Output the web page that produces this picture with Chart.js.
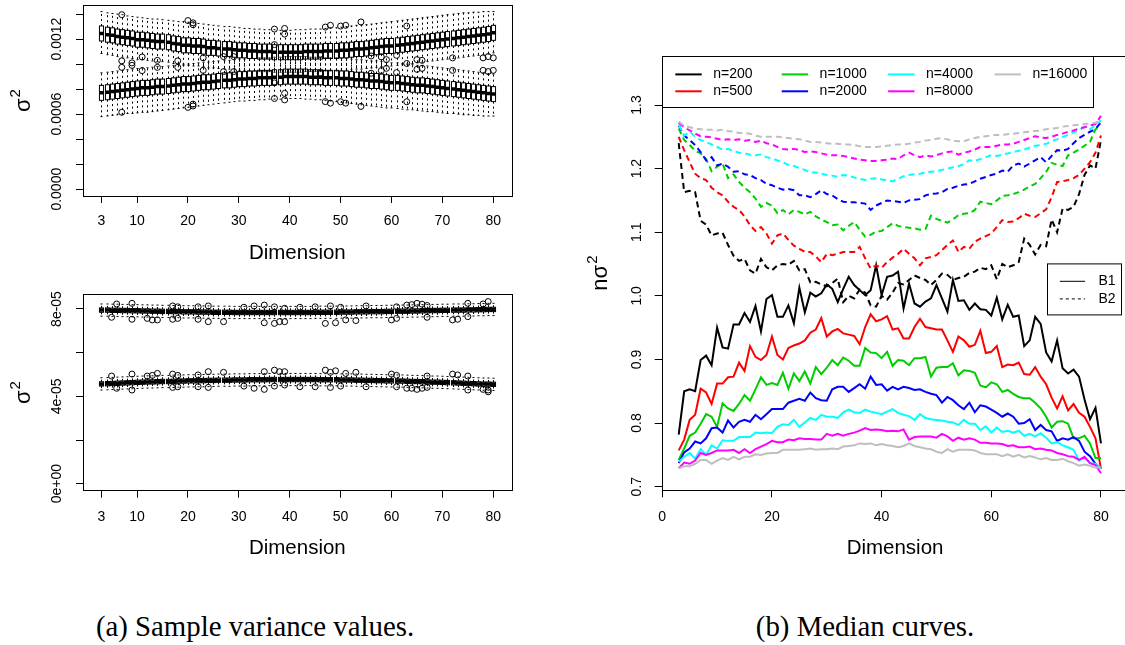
<!DOCTYPE html>
<html>
<head>
<meta charset="utf-8">
<script src="https://cdn.jsdelivr.net/npm/chart.js@4.4.0/dist/chart.umd.min.js"></script>
<style>
  html, body { margin: 0; padding: 0; background: #fff; }
  body { width: 1125px; height: 645px; overflow: hidden; position: relative; }
  canvas { position: absolute; }
  .cap { position: absolute; transform: translate(-50%, -50%); white-space: nowrap;
         font-family: "Liberation Serif", "Times New Roman", serif; font-size: 28.8px; color: #000; }
</style>
</head>
<body>
<canvas id="top" width="530" height="272" style="left:0;top:0"></canvas>
<canvas id="bot" width="530" height="290" style="left:0;top:280px"></canvas>
<canvas id="med" width="565" height="540" style="left:570px;top:40px"></canvas>
<div class="cap" style="left:255px;top:626px">(a) Sample variance values.</div>
<div class="cap" style="left:865px;top:626px">(b) Median curves.</div>
<script>
const FONT = '"Liberation Sans", Arial, Helvetica, sans-serif';

// x categories shared by every panel
const dims = [3,4,5,6,7,8,9,10,11,12,13,14,15,16,17,18,19,20,21,22,23,24,25,26,27,28,29,30,31,32,33,34,35,36,37,38,39,40,
  41,42,43,44,45,46,47,48,49,50,51,52,53,54,55,56,57,58,59,60,61,62,63,64,65,66,67,68,69,70,71,72,73,74,75,76,77,78,79,80];

// ---- panel (a) top: boxplot stats, units of 1e-4 ----
const topUpMed = [12.45,12.35,12.30,12.20,12.15,12.10,12.05,11.95,11.95,11.90,
  11.85,11.80,11.80,11.75,11.65,11.60,11.50,11.50,11.45,11.45,
  11.40,11.30,11.30,11.25,11.20,11.20,11.15,11.10,11.10,11.05,
  11.05,11.00,11.00,11.00,10.95,10.95,10.95,10.95,10.95,10.95,
  11.00,11.00,11.00,11.00,11.05,11.05,11.05,11.10,11.10,11.15,
  11.20,11.20,11.25,11.30,11.35,11.40,11.45,11.45,11.50,11.55,
  11.60,11.65,11.70,11.75,11.80,11.85,11.90,11.95,12.00,12.05,
  12.10,12.15,12.20,12.25,12.30,12.35,12.40,12.50];
const topUpQ3 = [13.05,12.95,12.90,12.80,12.75,12.70,12.65,12.55,12.55,12.50,
  12.45,12.40,12.40,12.35,12.25,12.20,12.10,12.10,12.05,12.05,
  12.00,11.90,11.90,11.85,11.80,11.80,11.75,11.70,11.70,11.65,
  11.65,11.60,11.60,11.60,11.55,11.55,11.55,11.55,11.55,11.55,
  11.60,11.60,11.60,11.60,11.65,11.65,11.65,11.70,11.70,11.75,
  11.80,11.80,11.85,11.90,11.95,12.00,12.05,12.05,12.10,12.15,
  12.20,12.25,12.30,12.35,12.40,12.45,12.50,12.55,12.60,12.65,
  12.70,12.75,12.80,12.85,12.90,12.95,13.00,13.10];
const topUpQ1 = [11.85,11.75,11.70,11.60,11.55,11.50,11.45,11.35,11.35,11.30,
  11.25,11.20,11.20,11.15,11.05,11.00,10.90,10.90,10.85,10.85,
  10.80,10.70,10.70,10.65,10.60,10.60,10.55,10.50,10.50,10.45,
  10.45,10.40,10.40,10.40,10.35,10.35,10.35,10.35,10.35,10.35,
  10.40,10.40,10.40,10.40,10.45,10.45,10.45,10.50,10.50,10.55,
  10.60,10.60,10.65,10.70,10.75,10.80,10.85,10.85,10.90,10.95,
  11.00,11.05,11.10,11.15,11.20,11.25,11.30,11.35,11.40,11.45,
  11.50,11.55,11.60,11.65,11.70,11.75,11.80,11.90];
const topUpHi = [14.20,14.10,14.05,14.00,13.95,13.85,13.80,13.75,13.70,13.65,
  13.60,13.60,13.55,13.50,13.45,13.40,13.40,13.35,13.30,13.25,
  13.20,13.15,13.10,13.05,13.00,13.00,12.95,12.90,12.85,12.85,
  12.80,12.80,12.75,12.75,12.75,12.70,12.70,12.70,12.75,12.75,
  12.75,12.80,12.80,12.80,12.85,12.90,12.90,12.95,13.00,13.05,
  13.10,13.10,13.15,13.20,13.25,13.30,13.35,13.40,13.45,13.50,
  13.55,13.60,13.65,13.70,13.75,13.80,13.85,13.90,13.95,14.00,
  14.05,14.10,14.10,14.15,14.15,14.20,14.20,14.20];
const topUpLo = [10.85,10.75,10.70,10.60,10.55,10.50,10.45,10.35,10.35,10.30,
  10.25,10.20,10.20,10.15,10.05,10.00,9.90,9.90,9.85,9.85,
  9.80,9.70,9.70,9.65,9.60,9.60,9.55,9.50,9.50,9.45,
  9.45,9.40,9.40,9.40,9.35,9.35,9.35,9.35,9.35,9.35,
  9.40,9.40,9.40,9.40,9.45,9.45,9.45,9.50,9.50,9.55,
  9.60,9.60,9.65,9.70,9.75,9.80,9.85,9.85,9.90,9.95,
  10.00,10.05,10.10,10.15,10.20,10.25,10.30,10.35,10.40,10.45,
  10.50,10.55,10.60,10.65,10.70,10.75,10.80,10.90];

const topLoMed = [7.70,7.75,7.80,7.85,7.90,7.95,8.00,8.05,8.10,8.10,
  8.15,8.20,8.20,8.25,8.30,8.35,8.40,8.40,8.45,8.50,
  8.55,8.55,8.60,8.65,8.70,8.70,8.75,8.80,8.80,8.85,
  8.85,8.90,8.90,8.90,8.95,8.95,9.00,9.00,9.00,9.00,
  9.00,8.95,8.95,8.95,8.90,8.90,8.90,8.85,8.85,8.80,
  8.75,8.75,8.70,8.65,8.65,8.60,8.55,8.50,8.50,8.45,
  8.40,8.35,8.30,8.30,8.25,8.20,8.15,8.10,8.05,8.00,
  7.95,7.90,7.85,7.80,7.75,7.70,7.65,7.60];
const topLoQ3 = [8.30,8.35,8.40,8.45,8.50,8.55,8.60,8.65,8.70,8.70,
  8.75,8.80,8.80,8.85,8.90,8.95,9.00,9.00,9.05,9.10,
  9.15,9.15,9.20,9.25,9.30,9.30,9.35,9.40,9.40,9.45,
  9.45,9.50,9.50,9.50,9.55,9.55,9.60,9.60,9.60,9.60,
  9.60,9.55,9.55,9.55,9.50,9.50,9.50,9.45,9.45,9.40,
  9.35,9.35,9.30,9.25,9.25,9.20,9.15,9.10,9.10,9.05,
  9.00,8.95,8.90,8.90,8.85,8.80,8.75,8.70,8.65,8.60,
  8.55,8.50,8.45,8.40,8.35,8.30,8.25,8.20];
const topLoQ1 = [7.10,7.15,7.20,7.25,7.30,7.35,7.40,7.45,7.50,7.50,
  7.55,7.60,7.60,7.65,7.70,7.75,7.80,7.80,7.85,7.90,
  7.95,7.95,8.00,8.05,8.10,8.10,8.15,8.20,8.20,8.25,
  8.25,8.30,8.30,8.30,8.35,8.35,8.40,8.40,8.40,8.40,
  8.40,8.35,8.35,8.35,8.30,8.30,8.30,8.25,8.25,8.20,
  8.15,8.15,8.10,8.05,8.05,8.00,7.95,7.90,7.90,7.85,
  7.80,7.75,7.70,7.70,7.65,7.60,7.55,7.50,7.45,7.40,
  7.35,7.30,7.25,7.20,7.15,7.10,7.05,7.00];
const topLoHi = [9.30,9.35,9.40,9.45,9.50,9.55,9.60,9.65,9.70,9.70,
  9.75,9.80,9.80,9.85,9.90,9.95,10.00,10.00,10.05,10.10,
  10.15,10.15,10.20,10.25,10.30,10.30,10.35,10.40,10.40,10.45,
  10.45,10.50,10.50,10.50,10.55,10.55,10.60,10.60,10.60,10.60,
  10.60,10.55,10.55,10.55,10.50,10.50,10.50,10.45,10.45,10.40,
  10.35,10.35,10.30,10.25,10.25,10.20,10.15,10.10,10.10,10.05,
  10.00,9.95,9.90,9.90,9.85,9.80,9.75,9.70,9.65,9.60,
  9.55,9.50,9.45,9.40,9.35,9.30,9.25,9.20];
const topLoLo = [5.80,5.85,5.90,5.95,6.00,6.05,6.05,6.10,6.15,6.15,
  6.20,6.25,6.30,6.35,6.40,6.45,6.50,6.55,6.60,6.65,
  6.70,6.75,6.80,6.85,6.90,6.95,7.00,7.05,7.05,7.10,
  7.10,7.15,7.15,7.20,7.20,7.20,7.25,7.25,7.25,7.25,
  7.20,7.20,7.15,7.15,7.10,7.05,7.00,6.95,6.90,6.85,
  6.80,6.75,6.70,6.65,6.60,6.55,6.50,6.50,6.45,6.40,
  6.35,6.35,6.30,6.25,6.20,6.20,6.15,6.10,6.05,6.05,
  6.00,5.95,5.95,5.90,5.90,5.85,5.85,5.85];

// outliers [dimension, value in 1e-4]
const topOutliers = [[7,13.95],[7,10.26],[7,9.74],[7,6.15],[9,10.1],[9,9.9],[11,10.57],[11,9.48],[14,10.3],[14,9.74],
  [18,10.26],[18,9.74],[20,13.48],[20,6.54],[21,13.3],[21,13.15],[21,6.8],[21,6.65],[23,10.5],[23,9.5],[27,10.6],[27,9.4],
  [29,10.6],[29,9.4],[37,12.8],[37,11.56],[37,8.5],[37,7.25],[39,12.85],[39,12.4],[39,7.66],[39,7.14],[46,10.78],[46,9.27],
  [47,12.96],[47,7.0],[48,13.1],[48,6.88],[50,13.04],[50,6.99],[51,13.1],[51,6.88],[54,13.37],[54,6.62],[56,10.65],[56,9.27],
  [58,10.57],[58,9.48],[59,10.36],[59,9.66],[61,10.7],[61,9.32],[63,13.04],[63,6.99],[63,10.05],[65,10.36],[65,9.58],
  [66,10.3],[66,9.66],[72,10.5],[72,9.5],[78,10.5],[78,9.5],[79,10.6],[79,9.4],[80,10.5],[80,9.5]];

// ---- panel (a) bottom: boxplot stats, units of 1e-5 ----
const botUpMed = [7.95,7.95,7.94,7.94,7.93,7.93,7.92,7.92,7.91,7.91,
  7.90,7.90,7.89,7.89,7.88,7.88,7.87,7.87,7.87,7.86,
  7.86,7.86,7.85,7.85,7.85,7.85,7.84,7.84,7.84,7.84,
  7.84,7.84,7.84,7.84,7.84,7.84,7.84,7.84,7.84,7.84,
  7.84,7.84,7.85,7.85,7.85,7.85,7.85,7.86,7.86,7.86,
  7.87,7.87,7.87,7.88,7.88,7.88,7.89,7.89,7.90,7.90,
  7.90,7.91,7.91,7.92,7.92,7.93,7.93,7.94,7.94,7.95,
  7.95,7.95,7.96,7.96,7.97,7.97,7.98,7.98];
const botUpQ3 = [8.05,8.05,8.04,8.04,8.03,8.03,8.02,8.02,8.01,8.01,
  8.00,8.00,7.99,7.99,7.98,7.98,7.97,7.97,7.97,7.96,
  7.96,7.96,7.95,7.95,7.95,7.95,7.94,7.94,7.94,7.94,
  7.94,7.94,7.94,7.94,7.94,7.94,7.94,7.94,7.94,7.94,
  7.94,7.94,7.95,7.95,7.95,7.95,7.95,7.96,7.96,7.96,
  7.97,7.97,7.97,7.98,7.98,7.98,7.99,7.99,8.00,8.00,
  8.00,8.01,8.01,8.02,8.02,8.03,8.03,8.04,8.04,8.05,
  8.05,8.05,8.06,8.06,8.07,8.07,8.08,8.08];
const botUpQ1 = [7.85,7.85,7.84,7.84,7.83,7.83,7.82,7.82,7.81,7.81,
  7.80,7.80,7.79,7.79,7.78,7.78,7.77,7.77,7.77,7.76,
  7.76,7.76,7.75,7.75,7.75,7.75,7.74,7.74,7.74,7.74,
  7.74,7.74,7.74,7.74,7.74,7.74,7.74,7.74,7.74,7.74,
  7.74,7.74,7.75,7.75,7.75,7.75,7.75,7.76,7.76,7.76,
  7.77,7.77,7.77,7.78,7.78,7.78,7.79,7.79,7.80,7.80,
  7.80,7.81,7.81,7.82,7.82,7.83,7.83,7.84,7.84,7.85,
  7.85,7.85,7.86,7.86,7.87,7.87,7.88,7.88];
const botUpHi = [8.23,8.23,8.22,8.22,8.21,8.21,8.20,8.20,8.19,8.19,
  8.18,8.18,8.17,8.17,8.16,8.16,8.15,8.15,8.15,8.14,
  8.14,8.14,8.13,8.13,8.13,8.13,8.12,8.12,8.12,8.12,
  8.12,8.12,8.12,8.12,8.12,8.12,8.12,8.12,8.12,8.12,
  8.12,8.12,8.13,8.13,8.13,8.13,8.13,8.14,8.14,8.14,
  8.15,8.15,8.15,8.16,8.16,8.16,8.17,8.17,8.18,8.18,
  8.18,8.19,8.19,8.20,8.20,8.21,8.21,8.22,8.22,8.23,
  8.23,8.23,8.24,8.24,8.25,8.25,8.26,8.26];
const botUpLo = [7.67,7.67,7.66,7.66,7.65,7.65,7.64,7.64,7.63,7.63,
  7.62,7.62,7.61,7.61,7.60,7.60,7.59,7.59,7.59,7.58,
  7.58,7.58,7.57,7.57,7.57,7.57,7.56,7.56,7.56,7.56,
  7.56,7.56,7.56,7.56,7.56,7.56,7.56,7.56,7.56,7.56,
  7.56,7.56,7.57,7.57,7.57,7.57,7.57,7.58,7.58,7.58,
  7.59,7.59,7.59,7.60,7.60,7.60,7.61,7.61,7.62,7.62,
  7.62,7.63,7.63,7.64,7.64,7.65,7.65,7.66,7.66,7.67,
  7.67,7.67,7.68,7.68,7.69,7.69,7.70,7.70];

const botLoMed = [4.57,4.58,4.59,4.60,4.61,4.62,4.63,4.64,4.65,4.66,
  4.66,4.67,4.68,4.68,4.69,4.70,4.70,4.71,4.71,4.72,
  4.72,4.73,4.73,4.74,4.74,4.74,4.75,4.75,4.75,4.76,
  4.76,4.76,4.76,4.77,4.77,4.77,4.77,4.77,4.77,4.77,
  4.77,4.77,4.77,4.76,4.76,4.76,4.76,4.75,4.75,4.75,
  4.74,4.74,4.73,4.73,4.72,4.72,4.71,4.71,4.70,4.70,
  4.69,4.68,4.68,4.67,4.66,4.65,4.65,4.64,4.63,4.62,
  4.61,4.60,4.59,4.58,4.57,4.56,4.56,4.55];
const botLoQ3 = [4.67,4.68,4.69,4.70,4.71,4.72,4.73,4.74,4.75,4.76,
  4.76,4.77,4.78,4.78,4.79,4.80,4.80,4.81,4.81,4.82,
  4.82,4.83,4.83,4.84,4.84,4.84,4.85,4.85,4.85,4.86,
  4.86,4.86,4.86,4.87,4.87,4.87,4.87,4.87,4.87,4.87,
  4.87,4.87,4.87,4.86,4.86,4.86,4.86,4.85,4.85,4.85,
  4.84,4.84,4.83,4.83,4.82,4.82,4.81,4.81,4.80,4.80,
  4.79,4.78,4.78,4.77,4.76,4.75,4.75,4.74,4.73,4.72,
  4.71,4.70,4.69,4.68,4.67,4.66,4.66,4.65];
const botLoQ1 = [4.47,4.48,4.49,4.50,4.51,4.52,4.53,4.54,4.55,4.56,
  4.56,4.57,4.58,4.58,4.59,4.60,4.60,4.61,4.61,4.62,
  4.62,4.63,4.63,4.64,4.64,4.64,4.65,4.65,4.65,4.66,
  4.66,4.66,4.66,4.67,4.67,4.67,4.67,4.67,4.67,4.67,
  4.67,4.67,4.67,4.66,4.66,4.66,4.66,4.65,4.65,4.65,
  4.64,4.64,4.63,4.63,4.62,4.62,4.61,4.61,4.60,4.60,
  4.59,4.58,4.58,4.57,4.56,4.55,4.55,4.54,4.53,4.52,
  4.51,4.50,4.49,4.48,4.47,4.46,4.46,4.45];
const botLoHi = [4.85,4.86,4.87,4.88,4.89,4.90,4.91,4.92,4.93,4.94,
  4.94,4.95,4.96,4.96,4.97,4.98,4.98,4.99,4.99,5.00,
  5.00,5.01,5.01,5.02,5.02,5.02,5.03,5.03,5.03,5.04,
  5.04,5.04,5.04,5.05,5.05,5.05,5.05,5.05,5.05,5.05,
  5.05,5.05,5.05,5.04,5.04,5.04,5.04,5.03,5.03,5.03,
  5.02,5.02,5.01,5.01,5.00,5.00,4.99,4.99,4.98,4.98,
  4.97,4.96,4.96,4.95,4.94,4.93,4.93,4.92,4.91,4.90,
  4.89,4.88,4.87,4.86,4.85,4.84,4.84,4.83];
const botLoLo = [4.29,4.30,4.31,4.32,4.33,4.34,4.35,4.36,4.37,4.38,
  4.38,4.39,4.40,4.40,4.41,4.42,4.42,4.43,4.43,4.44,
  4.44,4.45,4.45,4.46,4.46,4.46,4.47,4.47,4.47,4.48,
  4.48,4.48,4.48,4.49,4.49,4.49,4.49,4.49,4.49,4.49,
  4.49,4.49,4.49,4.48,4.48,4.48,4.48,4.47,4.47,4.47,
  4.46,4.46,4.45,4.45,4.44,4.44,4.43,4.43,4.42,4.42,
  4.41,4.40,4.40,4.39,4.38,4.37,4.37,4.36,4.35,4.34,
  4.33,4.32,4.31,4.30,4.29,4.28,4.28,4.27];

// outliers [dimension, value in 1e-5]
const botOutliers = [[5,7.62],[6,8.23],[9,8.26],[9,7.53],[12,7.57],[13,7.5],[14,7.5],[17,8.14],[17,7.53],[18,8.1],[18,7.57],
  [22,8.1],[22,7.53],[24,8.14],[24,7.42],[27,7.42],[31,8.08],[33,8.14],[35,8.18],[35,7.37],[37,8.1],[37,7.34],[38,7.42],
  [39,8.03],[39,7.42],[42,8.08],[45,8.1],[47,7.34],[48,8.14],[49,7.37],[50,8.08],[51,7.5],[53,7.47],[55,8.14],[60,7.5],
  [61,8.1],[61,7.57],[63,8.18],[64,8.2],[65,8.26],[66,8.22],[67,8.16],[67,7.62],[72,7.5],[73,7.53],[75,8.26],[75,7.65],
  [78,8.23],[79,8.34],
  [5,4.93],[6,4.37],[9,5.02],[9,4.29],[12,4.93],[13,4.96],[14,5.05],[17,5.02],[17,4.41],[18,4.96],[18,4.44],[22,4.98],
  [22,4.44],[24,5.13],[24,4.41],[27,5.1],[31,4.47],[33,4.37],[35,5.13],[35,4.32],[37,5.2],[37,4.47],[38,5.13],[39,5.13],
  [39,4.52],[42,4.44],[45,4.44],[47,5.2],[48,5.1],[48,4.41],[49,5.17],[50,4.47],[51,5.05],[53,5.1],[55,4.44],[60,5.02],
  [61,4.96],[61,4.44],[63,4.37],[64,4.37],[65,4.32],[66,4.37],[67,4.93],[67,4.41],[72,5.02],[73,4.98],[75,4.93],[75,4.29],
  [78,4.32],[79,4.21],[79,4.29]];

// ---- panel (b): median curves n*sigma^2 ----
const seriesNames = ['n=200', 'n=500', 'n=1000', 'n=2000', 'n=4000', 'n=8000', 'n=16000'];
const seriesColors = ['#000000', '#FF0000', '#00CD00', '#0000FF', '#00FFFF', '#FF00FF', '#BEBEBE'];

const n200B1 = [0.782,0.850,0.853,0.850,0.899,0.906,0.891,0.950,0.919,0.917,
  0.955,0.955,0.973,0.959,0.984,0.944,0.995,1.001,0.967,0.967,
  0.985,0.957,1.013,0.974,1.005,0.999,1.004,1.018,1.011,0.990,
  1.011,1.030,1.017,1.009,1.001,1.009,1.048,1.001,1.030,1.032,
  1.038,0.980,1.019,0.988,0.983,0.991,0.996,1.017,0.996,0.975,
  1.025,0.992,0.993,0.978,0.988,0.979,0.978,0.969,0.997,0.963,
  0.986,0.967,0.969,0.921,0.930,0.967,0.956,0.911,0.897,0.930,
  0.886,0.878,0.884,0.873,0.837,0.806,0.824,0.768];
const n500B1 = [0.757,0.774,0.805,0.813,0.854,0.848,0.830,0.862,0.862,0.872,
  0.873,0.895,0.882,0.921,0.904,0.899,0.907,0.936,0.907,0.900,
  0.918,0.922,0.925,0.930,0.942,0.947,0.965,0.936,0.944,0.948,
  0.941,0.939,0.937,0.924,0.951,0.971,0.960,0.963,0.968,0.947,
  0.949,0.933,0.933,0.951,0.964,0.951,0.949,0.947,0.947,0.930,
  0.912,0.936,0.930,0.920,0.923,0.945,0.910,0.912,0.921,0.888,
  0.892,0.891,0.895,0.877,0.876,0.888,0.873,0.861,0.840,0.823,
  0.842,0.820,0.830,0.816,0.810,0.794,0.776,0.728];
const n1000B1 = [0.742,0.760,0.780,0.785,0.799,0.814,0.810,0.794,0.831,0.823,
  0.819,0.830,0.844,0.835,0.853,0.872,0.860,0.863,0.860,0.879,
  0.854,0.878,0.866,0.881,0.862,0.888,0.877,0.887,0.899,0.891,
  0.903,0.898,0.890,0.890,0.918,0.911,0.910,0.902,0.912,0.890,
  0.899,0.898,0.891,0.902,0.902,0.904,0.873,0.887,0.888,0.888,
  0.894,0.875,0.883,0.882,0.879,0.859,0.856,0.864,0.861,0.849,
  0.852,0.846,0.841,0.839,0.839,0.832,0.823,0.810,0.793,0.802,
  0.803,0.799,0.776,0.776,0.780,0.768,0.745,0.745];
const n2000B1 = [0.737,0.754,0.760,0.771,0.768,0.776,0.792,0.793,0.785,0.804,
  0.793,0.802,0.805,0.802,0.813,0.806,0.814,0.822,0.822,0.822,
  0.832,0.835,0.838,0.835,0.848,0.839,0.836,0.835,0.853,0.857,
  0.857,0.849,0.855,0.861,0.854,0.873,0.860,0.861,0.851,0.857,
  0.853,0.857,0.855,0.852,0.853,0.849,0.846,0.844,0.832,0.841,
  0.836,0.828,0.822,0.832,0.817,0.828,0.826,0.821,0.816,0.810,
  0.815,0.810,0.799,0.800,0.806,0.789,0.797,0.789,0.787,0.772,
  0.776,0.774,0.778,0.772,0.755,0.748,0.736,0.729];
const n4000B1 = [0.739,0.747,0.753,0.744,0.759,0.750,0.765,0.760,0.773,0.772,
  0.772,0.778,0.778,0.778,0.785,0.784,0.785,0.784,0.794,0.798,
  0.797,0.805,0.794,0.801,0.808,0.805,0.813,0.810,0.810,0.808,
  0.817,0.821,0.817,0.816,0.821,0.818,0.816,0.814,0.818,0.822,
  0.816,0.813,0.811,0.805,0.814,0.808,0.806,0.805,0.804,0.802,
  0.801,0.797,0.805,0.799,0.799,0.789,0.795,0.785,0.793,0.786,
  0.788,0.785,0.788,0.780,0.783,0.779,0.784,0.777,0.768,0.770,
  0.765,0.762,0.758,0.741,0.746,0.737,0.736,0.729];
const n8000B1 = [0.729,0.738,0.736,0.741,0.753,0.750,0.753,0.757,0.757,0.757,
  0.758,0.753,0.759,0.753,0.759,0.763,0.767,0.772,0.770,0.770,
  0.774,0.773,0.776,0.775,0.775,0.774,0.774,0.783,0.780,0.783,
  0.780,0.783,0.785,0.788,0.792,0.789,0.790,0.789,0.787,0.788,
  0.787,0.790,0.774,0.778,0.779,0.779,0.779,0.777,0.783,0.779,
  0.772,0.777,0.774,0.776,0.774,0.769,0.769,0.768,0.768,0.767,
  0.764,0.765,0.762,0.762,0.763,0.759,0.760,0.758,0.757,0.753,
  0.751,0.748,0.747,0.742,0.747,0.737,0.734,0.721];
const n16000B1 = [0.729,0.732,0.732,0.736,0.742,0.742,0.736,0.741,0.745,0.742,
  0.747,0.743,0.747,0.747,0.751,0.750,0.752,0.753,0.753,0.758,
  0.758,0.758,0.758,0.759,0.760,0.758,0.759,0.759,0.760,0.759,
  0.763,0.764,0.765,0.768,0.767,0.768,0.765,0.767,0.765,0.764,
  0.762,0.764,0.768,0.764,0.762,0.760,0.759,0.755,0.753,0.759,
  0.755,0.758,0.758,0.758,0.757,0.753,0.751,0.751,0.751,0.748,
  0.751,0.747,0.750,0.746,0.748,0.746,0.743,0.745,0.742,0.742,
  0.744,0.740,0.737,0.733,0.735,0.733,0.730,0.730];

const n200B2 = [1.240,1.163,1.165,1.163,1.118,1.112,1.095,1.098,1.099,1.080,
  1.063,1.055,1.058,1.040,1.035,1.058,1.045,1.040,1.048,1.050,
  1.049,1.055,1.040,1.042,1.021,1.022,1.018,1.015,1.020,1.027,
  0.990,1.000,0.996,1.010,1.005,0.985,0.983,1.000,0.994,1.005,
  1.020,1.018,1.025,1.032,1.028,1.025,1.017,1.025,1.035,1.033,
  1.025,1.028,1.030,1.036,1.038,1.044,1.042,1.048,1.026,1.050,
  1.045,1.048,1.053,1.090,1.080,1.065,1.080,1.078,1.120,1.100,
  1.137,1.135,1.140,1.160,1.190,1.205,1.200,1.245];
const n500B2 = [1.250,1.229,1.210,1.192,1.185,1.182,1.170,1.163,1.158,1.148,
  1.140,1.135,1.125,1.111,1.102,1.108,1.098,1.082,1.095,1.098,
  1.088,1.079,1.074,1.069,1.069,1.062,1.053,1.066,1.064,1.066,
  1.069,1.069,1.069,1.077,1.059,1.043,1.048,1.044,1.053,1.060,
  1.066,1.074,1.066,1.059,1.048,1.059,1.061,1.064,1.072,1.080,
  1.087,1.069,1.077,1.074,1.085,1.090,1.094,1.098,1.108,1.119,
  1.116,1.117,1.122,1.129,1.126,1.124,1.130,1.136,1.155,1.179,
  1.180,1.182,1.185,1.190,1.200,1.210,1.225,1.252];
const n1000B2 = [1.263,1.245,1.237,1.228,1.224,1.215,1.196,1.203,1.208,1.185,
  1.191,1.179,1.170,1.163,1.153,1.140,1.146,1.142,1.130,1.135,
  1.128,1.135,1.132,1.128,1.132,1.125,1.120,1.116,1.111,1.112,
  1.103,1.110,1.116,1.104,1.093,1.096,1.101,1.102,1.108,1.114,
  1.110,1.108,1.107,1.106,1.104,1.105,1.126,1.121,1.118,1.115,
  1.120,1.127,1.129,1.130,1.135,1.148,1.146,1.144,1.150,1.157,
  1.158,1.160,1.163,1.167,1.172,1.176,1.185,1.195,1.209,1.206,
  1.204,1.221,1.225,1.230,1.236,1.242,1.262,1.265];
const n2000B2 = [1.268,1.252,1.245,1.237,1.226,1.213,1.218,1.205,1.208,1.203,
  1.195,1.196,1.191,1.190,1.185,1.182,1.176,1.174,1.170,1.167,
  1.168,1.166,1.158,1.158,1.155,1.160,1.166,1.160,1.158,1.152,
  1.148,1.147,1.147,1.146,1.145,1.135,1.142,1.146,1.150,1.149,
  1.148,1.146,1.150,1.151,1.152,1.158,1.160,1.161,1.163,1.168,
  1.170,1.173,1.175,1.176,1.180,1.184,1.187,1.190,1.192,1.197,
  1.195,1.205,1.208,1.203,1.208,1.213,1.218,1.210,1.220,1.229,
  1.228,1.231,1.240,1.248,1.253,1.258,1.262,1.273];
const n4000B2 = [1.269,1.252,1.258,1.250,1.245,1.242,1.238,1.234,1.230,1.231,
  1.228,1.225,1.224,1.222,1.221,1.222,1.218,1.216,1.213,1.210,
  1.206,1.204,1.201,1.198,1.194,1.194,1.192,1.190,1.189,1.187,
  1.190,1.189,1.186,1.184,1.182,1.184,1.185,1.183,1.182,1.180,
  1.184,1.188,1.190,1.191,1.192,1.194,1.195,1.196,1.198,1.200,
  1.202,1.204,1.207,1.213,1.212,1.215,1.218,1.221,1.220,1.222,
  1.224,1.226,1.228,1.230,1.233,1.236,1.237,1.239,1.243,1.246,
  1.250,1.253,1.257,1.260,1.266,1.262,1.268,1.276];
const n8000B2 = [1.272,1.265,1.260,1.255,1.251,1.250,1.249,1.247,1.245,1.246,
  1.245,1.246,1.244,1.245,1.242,1.244,1.240,1.238,1.234,1.231,
  1.230,1.231,1.229,1.226,1.227,1.226,1.224,1.222,1.221,1.221,
  1.220,1.218,1.216,1.214,1.213,1.212,1.212,1.213,1.214,1.216,
  1.215,1.221,1.225,1.221,1.218,1.221,1.219,1.221,1.224,1.226,
  1.227,1.222,1.225,1.227,1.230,1.234,1.234,1.234,1.236,1.238,
  1.238,1.239,1.242,1.245,1.248,1.251,1.249,1.248,1.250,1.253,
  1.255,1.258,1.260,1.263,1.265,1.268,1.270,1.283];
const n16000B2 = [1.274,1.267,1.265,1.263,1.262,1.261,1.261,1.260,1.261,1.259,
  1.258,1.256,1.256,1.255,1.252,1.250,1.250,1.250,1.250,1.249,
  1.248,1.247,1.246,1.244,1.242,1.242,1.241,1.240,1.239,1.239,
  1.238,1.238,1.237,1.235,1.234,1.234,1.234,1.235,1.236,1.237,
  1.238,1.238,1.239,1.241,1.242,1.244,1.245,1.247,1.248,1.246,
  1.244,1.243,1.243,1.246,1.248,1.250,1.251,1.252,1.253,1.253,
  1.254,1.255,1.256,1.257,1.258,1.259,1.260,1.262,1.263,1.264,
  1.266,1.267,1.268,1.269,1.270,1.271,1.272,1.277];

const curvesB1 = [n200B1, n500B1, n1000B1, n2000B1, n4000B1, n8000B1, n16000B1];
const curvesB2 = [n200B2, n500B2, n1000B2, n2000B2, n4000B2, n8000B2, n16000B2];

// axis ticks and labels
const xTicksA = [3, 10, 20, 30, 40, 50, 60, 70, 80];
const yTicksTop = [0, 0.0002, 0.0004, 0.0006, 0.0008, 0.0010, 0.0012, 0.0014];
const yLabelTop = [[0, '0.0000'], [0.0006, '0.0006'], [0.0012, '0.0012']];
const yTicksBot = [0, 2e-5, 4e-5, 6e-5, 8e-5];
const yLabelBot = [[0, '0e+00'], [4e-5, '4e-05'], [8e-5, '8e-05']];
const xTicksB = [0, 20, 40, 60, 80];
const yTicksMed = [0.7, 0.8, 0.9, 1.0, 1.1, 1.2, 1.3];
const yLabelMed = [[0.7, '0.7'], [0.8, '0.8'], [0.9, '0.9'], [1.0, '1.0'], [1.1, '1.1'], [1.2, '1.2'], [1.3, '1.3']];

// sanity check on the series lengths
const allSeries = { topUpMed, topUpQ3, topUpQ1, topUpHi, topUpLo, topLoMed, topLoQ3, topLoQ1, topLoHi, topLoLo,
  botUpMed, botUpQ3, botUpQ1, botUpHi, botUpLo, botLoMed, botLoQ3, botLoQ1, botLoHi, botLoLo,
  n200B1, n500B1, n1000B1, n2000B1, n4000B1, n8000B1, n16000B1,
  n200B2, n500B2, n1000B2, n2000B2, n4000B2, n8000B2, n16000B2 };
for (const k in allSeries) {
  if (allSeries[k].length !== dims.length) console.error('bad length', k, allSeries[k].length);
}

Chart.defaults.font.family = FONT;
Chart.defaults.color = '#000';

function xAxis(min, max, ticks, height, labelPad, titlePad) {
  return {
    type: 'linear', min, max,
    afterBuildTicks: s => { s.ticks = ticks.map(v => ({ value: v })); },
    afterFit: s => { s.height = height; },
    grid: { drawOnChartArea: false, drawTicks: true, tickLength: 7, color: '#000', tickColor: '#000' },
    border: { display: false },
    ticks: { autoSkip: false, maxRotation: 0, minRotation: 0, padding: labelPad, color: '#000',
             font: { size: 14 }, callback: v => String(v) },
    title: { display: true, text: 'Dimension', color: '#000', font: { size: 20.5 },
             padding: { top: 0, bottom: titlePad } }
  };
}

function yAxis(min, max, ticks, width) {
  return {
    type: 'linear', min, max,
    afterBuildTicks: s => { s.ticks = ticks.map(v => ({ value: v })); },
    afterFit: s => { s.width = width; },
    grid: { drawOnChartArea: false, drawTicks: true, tickLength: 7, color: '#000', tickColor: '#000' },
    border: { display: false },
    ticks: { display: false }
  };
}

// plot frame like R's box()
const frame = {
  id: 'frame',
  afterDatasetsDraw(chart) {
    const { ctx, chartArea: a } = chart;
    ctx.save();
    ctx.strokeStyle = '#000';
    ctx.lineWidth = 1;
    ctx.strokeRect(Math.round(a.left) + 0.5, Math.round(a.top) + 0.5,
                   Math.round(a.right - a.left), Math.round(a.bottom - a.top));
    ctx.restore();
  }
};

// rotated y tick labels and y title (R las = 0 style)
function yText(labels, title, titleX, gap) {
  return {
    id: 'yText',
    afterDraw(chart) {
      const { ctx, chartArea: a, scales: { y } } = chart;
      ctx.save();
      ctx.fillStyle = '#000';
      ctx.font = '14px ' + FONT;
      ctx.textAlign = 'center';
      ctx.textBaseline = 'middle';
      labels.forEach(([v, t]) => {
        ctx.save();
        ctx.translate(a.left - gap, y.getPixelForValue(v));
        ctx.rotate(-Math.PI / 2);
        ctx.fillText(t, 0, 0);
        ctx.restore();
      });
      ctx.translate(titleX, (a.top + a.bottom) / 2);
      ctx.rotate(-Math.PI / 2);
      ctx.font = '22px ' + FONT;
      const w1 = ctx.measureText(title).width;
      ctx.font = '15px ' + FONT;
      const w2 = ctx.measureText('2').width;
      const x0 = -(w1 + w2 + 1) / 2;
      ctx.textAlign = 'left';
      ctx.textBaseline = 'alphabetic';
      ctx.font = '22px ' + FONT;
      ctx.fillText(title, x0, 0);
      ctx.font = '15px ' + FONT;
      ctx.fillText('2', x0 + w1 + 1, -10);
      ctx.restore();
    }
  };
}

// box-and-whisker bands, drawn through the chart scales
function boxes(bands, unit) {
  return {
    id: 'rBoxes',
    beforeDatasetsDraw(chart) {
      const { ctx, chartArea: a, scales: { x, y } } = chart;
      const hw = 2.05;
      ctx.save();
      ctx.beginPath();
      ctx.rect(a.left, a.top, a.right - a.left, a.bottom - a.top);
      ctx.clip();
      ctx.strokeStyle = '#000';
      for (const b of bands) {
        dims.forEach((d, i) => {
          const px = Math.round(x.getPixelForValue(d)) + 0.5;
          const py = v => y.getPixelForValue(v * unit);
          const yHi = py(b.hi[i]), yLo = py(b.lo[i]), yQ3 = py(b.q3[i]), yQ1 = py(b.q1[i]), yM = py(b.med[i]);
          ctx.lineWidth = 1;
          ctx.setLineDash([2, 3]);
          ctx.beginPath();
          ctx.moveTo(px, yQ3); ctx.lineTo(px, yHi);
          ctx.moveTo(px, yQ1); ctx.lineTo(px, yLo);
          ctx.stroke();
          ctx.setLineDash([]);
          ctx.beginPath();
          ctx.moveTo(px - hw / 2, yHi); ctx.lineTo(px + hw / 2, yHi);
          ctx.moveTo(px - hw / 2, yLo); ctx.lineTo(px + hw / 2, yLo);
          ctx.stroke();
          ctx.strokeRect(px - hw, yQ3, 2 * hw, yQ1 - yQ3);
          ctx.lineWidth = 3.5;
          ctx.beginPath();
          ctx.moveTo(px - hw, yM); ctx.lineTo(px + hw, yM);
          ctx.stroke();
        });
      }
      ctx.restore();
    }
  };
}

function outlierSet(list, unit) {
  return {
    data: list.map(([d, v]) => ({ x: d, y: v * unit })),
    pointRadius: 3, pointBorderWidth: 1, pointBorderColor: '#000',
    pointBackgroundColor: 'rgba(0,0,0,0)', showLine: false
  };
}

const baseOptions = {
  responsive: false, animation: false, devicePixelRatio: 1, events: [],
  plugins: { legend: { display: false }, tooltip: { enabled: false } }
};

// panel (a) top
new Chart(document.getElementById('top'), {
  type: 'scatter',
  data: { datasets: [outlierSet(topOutliers, 1e-4)] },
  options: Object.assign({}, baseOptions, {
    layout: { padding: { left: 0, right: 18.3, top: 0, bottom: 0 } },
    scales: {
      x: xAxis(-0.62, 83.62, xTicksA, 76, 9.6, 6.4),
      y: yAxis(-5.45e-5, 1.4725e-3, yTicksTop, 83)
    }
  }),
  plugins: [
    boxes([
      { med: topUpMed, q1: topUpQ1, q3: topUpQ3, lo: topUpLo, hi: topUpHi },
      { med: topLoMed, q1: topLoQ1, q3: topLoQ3, lo: topLoLo, hi: topLoHi }
    ], 1e-4),
    frame, yText(yLabelTop, 'σ', 30, 25.5)
  ]
});

// panel (a) bottom
new Chart(document.getElementById('bot'), {
  type: 'scatter',
  data: { datasets: [outlierSet(botOutliers, 1e-5)] },
  options: Object.assign({}, baseOptions, {
    layout: { padding: { left: 0, right: 18.3, top: 14.3, bottom: 0 } },
    scales: {
      x: xAxis(-0.62, 83.62, xTicksA, 79.3, 11.2, 9.4),
      y: yAxis(-3.2e-6, 8.673e-5, yTicksBot, 83)
    }
  }),
  plugins: [
    boxes([
      { med: botUpMed, q1: botUpQ1, q3: botUpQ3, lo: botUpLo, hi: botUpHi },
      { med: botLoMed, q1: botLoQ1, q3: botLoQ3, lo: botLoLo, hi: botLoHi }
    ], 1e-5),
    frame, yText(yLabelBot, 'σ', 30, 25.5)
  ]
});

// panel (b) legends
const legends = {
  id: 'rLegends',
  afterDraw(chart) {
    const { ctx, chartArea: a } = chart;
    ctx.save();
    ctx.font = '14px ' + FONT;
    ctx.textAlign = 'left';
    ctx.textBaseline = 'middle';
    // series legend, top left, 4 columns
    const bx = Math.round(a.left) + 0.5, by = Math.round(a.top) + 0.5;
    ctx.strokeStyle = '#000';
    ctx.lineWidth = 1;
    ctx.strokeRect(bx, by, 431, 51);
    seriesNames.forEach((name, i) => {
      const cx = bx + 12.8 + Math.floor(i / 2) * 106.4;
      const cy = by + 17.9 + (i % 2) * 16.9;
      ctx.strokeStyle = seriesColors[i];
      ctx.lineWidth = 2;
      ctx.beginPath(); ctx.moveTo(cx, cy); ctx.lineTo(cx + 26.4, cy); ctx.stroke();
      ctx.fillStyle = '#000';
      ctx.fillText(name, cx + 37.9, cy);
    });
    // line type legend
    const lx = bx + 385, ly = by + 207.4;
    ctx.strokeStyle = '#000';
    ctx.lineWidth = 1;
    ctx.strokeRect(lx, ly, 74, 51);
    [['B1', []], ['B2', [3, 3]]].forEach(([t, dash], i) => {
      const cy = ly + 17.4 + i * 17.6;
      ctx.setLineDash(dash);
      ctx.beginPath(); ctx.moveTo(lx + 12.3, cy); ctx.lineTo(lx + 37.6, cy); ctx.stroke();
      ctx.setLineDash([]);
      ctx.fillStyle = '#000';
      ctx.fillText(t, lx + 51, cy);
    });
    ctx.restore();
  }
};

const medSets = [];
seriesNames.forEach((name, i) => {
  medSets.push({
    label: name + ' B1', data: dims.map((d, j) => ({ x: d, y: curvesB1[i][j] })),
    borderColor: seriesColors[i], borderWidth: 2, pointRadius: 0, showLine: true, tension: 0, order: -2 * i
  });
  medSets.push({
    label: name + ' B2', data: dims.map((d, j) => ({ x: d, y: curvesB2[i][j] })),
    borderColor: seriesColors[i], borderWidth: 2, borderDash: [6, 4], pointRadius: 0, showLine: true,
    tension: 0, order: -2 * i - 1
  });
});

new Chart(document.getElementById('med'), {
  type: 'scatter',
  data: { datasets: medSets },
  options: Object.assign({}, baseOptions, {
    layout: { padding: { left: 20, right: 6.6, top: 15.9, bottom: 0 } },
    scales: {
      x: xAxis(-0.1, 85, xTicksB, 89.7, 11.8, 19.2),
      y: yAxis(0.6943, 1.3772, yTicksMed, 71.7)
    }
  }),
  plugins: [frame, legends, yText(yLabelMed, 'nσ', 37, 25)]
});
</script>
</body>
</html>
